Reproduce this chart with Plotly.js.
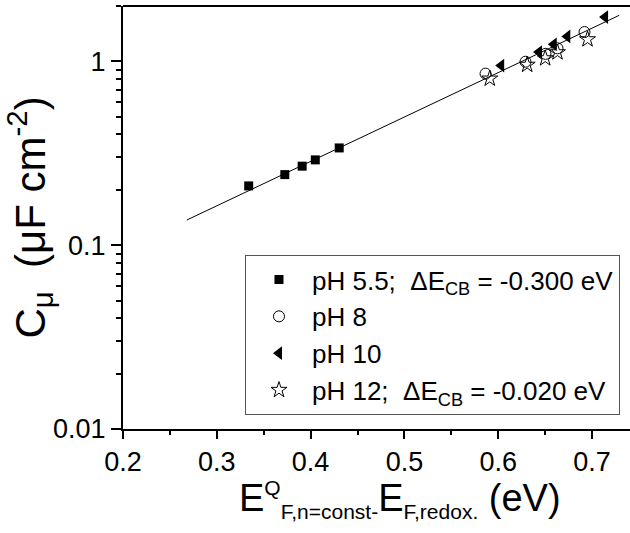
<!DOCTYPE html>
<html>
<head>
<meta charset="utf-8">
<script src="https://cdn.plot.ly/plotly-3.0.1.min.js"></script>
<style>
html,body{margin:0;padding:0;background:#fff;}
#chart{width:630px;height:533px;}
</style>
</head>
<body>
<div id="chart"></div>
<script>
// pH 5.5
const xPH55 = [0.334, 0.3725, 0.391, 0.405, 0.4305];
const yPH55 = [0.210, 0.242, 0.269, 0.291, 0.338];
// pH 8
const xPH8 = [0.5865, 0.6291, 0.6504, 0.6632, 0.692];
const yPH8 = [0.857, 0.995, 1.098, 1.177, 1.443];
// pH 10
const xPH10 = [0.6032, 0.6435, 0.6592, 0.6737, 0.7139];
const yPH10 = [0.948, 1.123, 1.237, 1.367, 1.741];
// pH 12
const xPH12 = [0.591, 0.6309, 0.6501, 0.6632, 0.6952];
const yPH12 = [0.805, 0.957, 1.038, 1.119, 1.317];
// fit line end points
const xFit = [0.268, 0.729];
const yFit = [0.137, 1.78];

const namePH55 = 'pH 5.5;  ΔE<sub>CB</sub> = -0.300 eV';
const namePH8 = 'pH 8';
const namePH10 = 'pH 10';
const namePH12 = 'pH 12;  ΔE<sub>CB</sub> = -0.020 eV';

const xTickVals = [0.2, 0.3, 0.4, 0.5, 0.6, 0.7];
const xTickText = ['0.2', '0.3', '0.4', '0.5', '0.6', '0.7'];
const yTickVals = [0.01, 0.1, 1];
const yTickText = ['0.01', '0.1', '1'];
const xMinor = [0.25, 0.35, 0.45, 0.55, 0.65];
const yMinor = [0.02,0.03,0.04,0.05,0.06,0.07,0.08,0.09,0.2,0.3,0.4,0.5,0.6,0.7,0.8,0.9,2];

const FONT = 'Liberation Sans, Arial, sans-serif';
const SUBX = 'font-size:21px';
const xTitle = 'E<sup><span style="font-size:21px">Q</span></sup><sub><span style="' + SUBX + '">F,n=const-</span></sub>E<sub><span style="' + SUBX + '">F,redox.</span></sub> (eV)';

const traces = [
  {x: xFit, y: yFit, mode: 'lines', line: {color: '#000', width: 1}, showlegend: false, hoverinfo: 'skip'},
  {x: xPH55, y: yPH55, mode: 'markers', name: namePH55,
   marker: {symbol: 'square', size: 9, color: '#000'}},
  {x: xPH8, y: yPH8, mode: 'markers', name: namePH8,
   marker: {symbol: 'circle-open', size: 11, color: '#000', line: {width: 1, color: '#000'}}},
  {x: xPH10, y: yPH10, mode: 'markers', name: namePH10,
   marker: {symbol: 'triangle-left', size: 12, color: '#000'}},
  {x: xPH12, y: yPH12, mode: 'markers', name: namePH12,
   marker: {symbol: 'star-open', size: 12, color: '#000', line: {width: 1, color: '#000'}}}
];

const layout = {
  width: 630, height: 533,
  margin: {l: 123, r: 0, t: 6, b: 104},
  paper_bgcolor: '#fff', plot_bgcolor: '#fff',
  font: {family: FONT, color: '#000', size: 26},
  showlegend: true,
  xaxis: {
    range: [0.2, 0.7405],
    showgrid: false, zeroline: false,
    showline: true, linecolor: '#000', linewidth: 2,
    ticks: 'outside', ticklen: 8, tickwidth: 2, tickcolor: '#000',
    tickmode: 'array', tickvals: xTickVals, ticktext: xTickText,
    tickfont: {size: 27, family: FONT},
    minor: {tickmode: 'array', tickvals: xMinor, ticks: 'outside', ticklen: 4, tickwidth: 2, tickcolor: '#000', showgrid: false}
  },
  yaxis: {
    type: 'log', range: [-2, 0.301],
    showgrid: false, zeroline: false,
    showline: true, linecolor: '#000', linewidth: 2,
    ticks: 'outside', ticklen: 10, tickwidth: 2, tickcolor: '#000',
    tickmode: 'array', tickvals: yTickVals, ticktext: yTickText,
    tickfont: {size: 27, family: FONT},
    minor: {tickmode: 'array', tickvals: yMinor, ticks: 'outside', ticklen: 5, tickwidth: 2, tickcolor: '#000', showgrid: false},
    title: {text: 'C<sub>μ</sub>  (μF cm<sup>-2</sup>)', font: {size: 42, family: FONT}, standoff: 0}
  },
  annotations: [
    {text: xTitle, xref: 'paper', yref: 'paper', x: 0.546, y: -0.106,
     xanchor: 'center', yanchor: 'top', showarrow: false,
     font: {size: 38, family: FONT, color: '#000'}}
  ],
  legend: {
    x: 0.2406, y: 0.411, xanchor: 'left', yanchor: 'top',
    bgcolor: '#fff', bordercolor: '#555', borderwidth: 1,
    font: {size: 26, family: FONT, color: '#000'},
    itemwidth: 56,
    tracegroupgap: 0
  },
  shapes: [
    {type: 'line', xref: 'paper', yref: 'paper', x0: 0, x1: 1, y0: 1, y1: 1, line: {color: '#000', width: 2}}
  ]
};

Plotly.newPlot('chart', traces, layout, {staticPlot: true, displayModeBar: false});
</script>
</body>
</html>
